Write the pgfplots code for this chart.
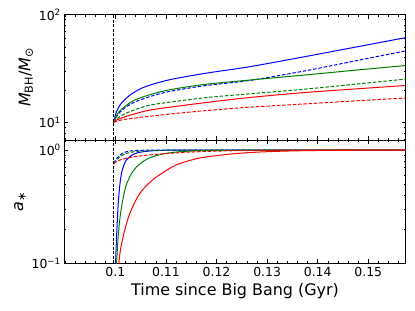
\documentclass[border=0pt]{standalone}
\usepackage{fontspec}
\setmainfont{DejaVu Sans}
\usepackage{pgfplots}
\pgfplotsset{compat=1.18}
\definecolor{mplgreen}{rgb}{0,0.5,0}
\begin{document}
\begin{tikzpicture}
\path[use as bounding box] (-64.3bp,-171bp) rectangle (350.7bp,140bp);
\pgfplotsset{
  panel/.style={
    scale only axis, width=341.4bp,
    xmin=0.0899, xmax=0.1574,
    xtick={0.1,0.11,0.12,0.13,0.14,0.15},
    minor xtick={0.09,0.092,...,0.157},
    tick align=inside, xtick pos=both, ytick pos=both,
    major tick length=4bp, minor tick length=2bp,
    every tick/.style={black, line width=0.6bp},
    axis line style={black, line width=0.8bp},
    tick label style={font=\fontsize{12.5}{13}\selectfont},
    label style={font=\fontsize{16}{17}\selectfont},
    ylabel style={yshift=-1bp},
    clip=true,
  },
  sb/.style={blue, line width=1bp, smooth, tension=0.5},
  sg/.style={mplgreen, line width=1bp, smooth, tension=0.5},
  sr/.style={red, line width=1bp, smooth, tension=0.5},
  db/.style={blue, line width=1bp, dash pattern=on 3.5bp off 1.8bp, smooth, tension=0.5},
  dg/.style={mplgreen, line width=1bp, dash pattern=on 3.5bp off 1.8bp, smooth, tension=0.5},
  dr/.style={red, line width=1bp, dash pattern=on 3.5bp off 1.8bp, smooth, tension=0.5},
  vl/.style={black, line width=0.8bp, dash pattern=on 3bp off 1.5bp},
}
\begin{axis}[ymode=log, panel, name=top, at={(0,0)}, anchor=south west, height=125.3bp,
  ymin=6.9, ymax=100,
  xticklabels={},
  ytick={10,100}, yticklabels={10\textsuperscript{1},10\textsuperscript{2}},
  minor ytick={7,8,9,20,30,40,50,60,70,80,90},
  ylabel={{\itshape M}\textsubscript{BH}/{\itshape M}\textsubscript{⊙}},
]
\addplot[sb] coordinates {(0.0997,10) (0.0999,11.3) (0.1001,12.2) (0.10055,13.6) (0.1012,15.2) (0.10188,16.4) (0.1031,18.3) (0.10451,20.1) (0.1060,21.6) (0.10781,23.0) (0.11112,25.2) (0.1177,28.6) (0.1266,33.0) (0.1374,40.8) (0.1474,50.0) (0.1574,61.3)};
\addplot[db] coordinates {(0.0997,10) (0.0999,10.6) (0.1001,11.1) (0.10055,12.0) (0.1012,12.9) (0.10188,13.7) (0.1031,14.9) (0.10451,16.0) (0.10781,18.0) (0.1111,19.6) (0.1177,22.0) (0.1266,24.6) (0.1374,30.1) (0.1474,37.3) (0.1574,46.2)};
\addplot[sg] coordinates {(0.0997,10) (0.0999,10.7) (0.1001,11.3) (0.10055,12.3) (0.1012,13.3) (0.10188,14.1) (0.1031,15.5) (0.10451,16.7) (0.10781,18.7) (0.1111,20.3) (0.1177,22.6) (0.1266,24.8) (0.1374,27.6) (0.1474,30.6) (0.1574,33.8)};
\addplot[dg] coordinates {(0.0997,10) (0.1001,10.7) (0.1012,11.6) (0.10188,12.1) (0.10451,13.5) (0.10781,14.8) (0.1177,17.0) (0.1266,18.5) (0.1374,20.4) (0.1474,22.7) (0.1574,25.3)};
\addplot[sr] coordinates {(0.0997,10) (0.1001,10.5) (0.10188,11.3) (0.10451,12.3) (0.10781,13.3) (0.1177,15.3) (0.1266,17.1) (0.1374,19.0) (0.1474,20.5) (0.1574,22.1)};
\addplot[dr] coordinates {(0.0997,10) (0.1001,10.25) (0.10188,10.7) (0.10781,11.6) (0.1177,12.9) (0.1266,13.9) (0.1374,14.9) (0.1474,15.9) (0.1574,16.9)};
\addplot[vl] coordinates {(0.0997,6.9) (0.0997,100)};
\end{axis}
\begin{axis}[ymode=log, panel, name=bot, at={(0,0)}, anchor=north west, height=123.3bp,
  ymin=0.1, ymax=1.225,
  xticklabels={0.1,0.11,0.12,0.13,0.14,0.15},
  ytick={0.1,1}, yticklabels={10\textsuperscript{−1},10\textsuperscript{0}},
  minor ytick={0.2,0.3,0.4,0.5,0.6,0.7,0.8,0.9},
  ylabel={{\itshape a}\textsubscript{∗}},
  xlabel={Time since Big Bang (Gyr)},
]
\addplot[sb] coordinates {(0.0997,0.03) (0.10004,0.1) (0.10024,0.172) (0.10055,0.33) (0.1009,0.50) (0.10123,0.63) (0.1017,0.74) (0.10222,0.82) (0.1031,0.89) (0.10419,0.94) (0.1058,0.97) (0.1075,0.985) (0.110,0.995) (0.114,0.998) (0.13,0.998) (0.1574,0.998)};
\addplot[db] coordinates {(0.0997,0.76) (0.1,0.81) (0.1003,0.845) (0.10089,0.90) (0.1015,0.94) (0.10222,0.966) (0.1032,0.983) (0.1045,0.992) (0.107,0.997) (0.112,0.998) (0.1574,0.998)};
\addplot[sg] coordinates {(0.0997,0.03) (0.10024,0.1) (0.10055,0.172) (0.1009,0.25) (0.10123,0.316) (0.1017,0.41) (0.10222,0.50) (0.1031,0.61) (0.10419,0.71) (0.1058,0.81) (0.10748,0.875) (0.1098,0.93) (0.11276,0.966) (0.1165,0.985) (0.12,0.992) (0.125,0.996) (0.13,0.998) (0.1574,0.998)};
\addplot[dg] coordinates {(0.0997,0.76) (0.1,0.79) (0.1003,0.82) (0.10089,0.87) (0.1015,0.905) (0.10222,0.935) (0.1035,0.962) (0.10485,0.978) (0.107,0.989) (0.11,0.995) (0.115,0.998) (0.1574,0.998)};
\addplot[sr] coordinates {(0.0997,0.02) (0.10069,0.1) (0.10154,0.172) (0.10287,0.276) (0.10485,0.415) (0.10748,0.55) (0.11078,0.69) (0.11276,0.76) (0.11671,0.85) (0.12265,0.92) (0.12858,0.96) (0.1365,0.985) (0.1464,0.995) (0.1574,0.998)};
\addplot[dr] coordinates {(0.0997,0.76) (0.10089,0.816) (0.10353,0.87) (0.10748,0.91) (0.11276,0.947) (0.11671,0.966) (0.1227,0.984) (0.13,0.994) (0.14,0.998) (0.1574,0.998)};
\addplot[vl] coordinates {(0.0997,0.1) (0.0997,1.225)};
\end{axis}
\end{tikzpicture}
\end{document}
